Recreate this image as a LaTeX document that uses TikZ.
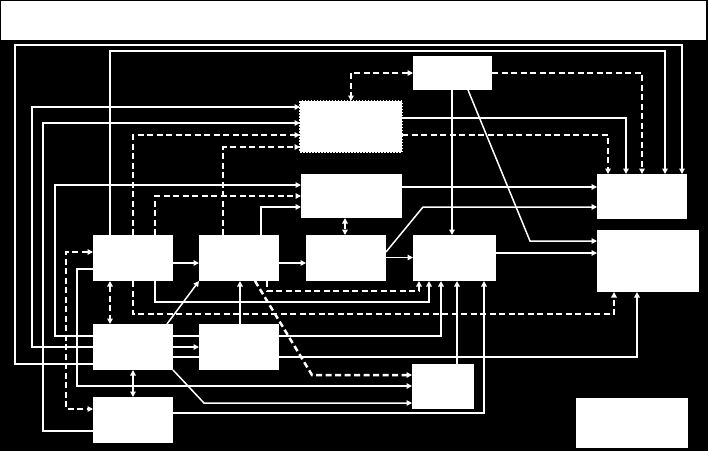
\documentclass[tikz,border=0pt]{standalone}
\usetikzlibrary{arrows.meta}
\begin{document}
\begin{tikzpicture}[x=1pt,y=-1pt,
  box/.style={rectangle,fill=white,draw=none,inner sep=0pt,outer sep=0pt,anchor=north west},
  ln/.style={draw=white,line width=1.5pt},
  dsh/.style={draw=white,line width=2.5pt,dash pattern=on 6pt off 3.5pt},
  tip/.style={-{Triangle[length=5.5pt,width=5.5pt]}},
  tips/.style={{Triangle[length=5.5pt,width=5.5pt]}-{Triangle[length=5.5pt,width=5.5pt]}}]
\fill[black] (0,0) rectangle (708,451);
\useasboundingbox (0,0) rectangle (708,451);
\path
 node[box,minimum width=705pt,minimum height=39pt] (title) at (1,1) {}
 node[box,minimum width=79pt,minimum height=34pt] (T) at (413,56) {}
 node[box,minimum width=102pt,minimum height=51pt] (B) at (300,101) {}
 node[box,minimum width=101pt,minimum height=44pt] (C) at (301,174) {}
 node[box,minimum width=80pt,minimum height=46pt] (b1) at (93,235) {}
 node[box,minimum width=80pt,minimum height=46pt] (b2) at (199,235) {}
 node[box,minimum width=80pt,minimum height=46pt] (D) at (306,235) {}
 node[box,minimum width=83pt,minimum height=46pt] (E) at (413,235) {}
 node[box,minimum width=90pt,minimum height=45pt] (F) at (597,174) {}
 node[box,minimum width=102pt,minimum height=62pt] (G) at (597,230) {}
 node[box,minimum width=80pt,minimum height=46pt] (J) at (93,324) {}
 node[box,minimum width=80pt,minimum height=46pt] (K) at (199,324) {}
 node[box,minimum width=62pt,minimum height=45pt] (H) at (412,364) {}
 node[box,minimum width=80pt,minimum height=46pt] (L) at (93,397) {}
 node[box,minimum width=112pt,minimum height=50pt] (I) at (576,398) {};
% connectors
\draw[ln,tip] (J.west |- 0,364) -- (15,364) -- (15,45) -- (682,45) -- (682,0 |- F.north);
\draw[ln,tip] (110,0 |- b1.north) -- (110,51) -- (665,51) -- (665,0 |- F.north);
\draw[dsh,tips] (T.west |- 0,73) -- (351,73) -- (351,0 |- B.north);
\draw[dsh,tip] (T.east |- 0,73) -- (642,73) -- (642,0 |- F.north);
\draw[ln,tip] (B.east |- 0,118) -- (626,118) -- (626,0 |- F.north);
\draw[dsh,tip] (B.east |- 0,135) -- (608,135) -- (608,0 |- F.north);
\draw[ln,tip] (C.east |- 0,187) -- (F.west |- 0,187);
\draw[ln,tip] (D.east |- 0,252) -- (423,207) -- (F.west |- 0,207);
\draw[ln,tip] (452,0 |- T.south) -- (452,0 |- E.north);
\draw[ln,tip] (468,0 |- T.south) -- (530,241) -- (G.west |- 0,241);
\draw[ln,tip] (E.east |- 0,253) -- (G.west |- 0,253);
\draw[ln,tip] (b1.east |- 0,263) -- (b2.west |- 0,263);
\draw[ln,tip] (b2.east |- 0,263) -- (D.west |- 0,263);
\draw[ln,tip] (D.east |- 0,257.5) -- (E.west |- 0,257.5);
\draw[ln,tip] (J.west |- 0,347) -- (32,347) -- (32,107) -- (B.west |- 0,107);
\draw[ln,tip] (L.west |- 0,431) -- (43,431) -- (43,123) -- (B.west |- 0,123);
\draw[dsh,tip] (133,0 |- b1.north) -- (133,135) -- (B.west |- 0,135);
\draw[dsh,tip] (223,0 |- b2.north) -- (223,147) -- (B.west |- 0,147);
\draw[ln,tip] (J.west |- 0,336) -- (55,336) -- (55,185) -- (C.west |- 0,185);
\draw[dsh,tip] (155,0 |- b1.north) -- (155,196) -- (C.west |- 0,196);
\draw[ln,tip] (261,0 |- b2.north) -- (261,207) -- (C.west |- 0,207);
\draw[dsh,tips] (345,0 |- C.south) -- (345,0 |- D.north);
\draw[dsh,tips] (b1.west |- 0,252) -- (66,252) -- (66,409) -- (L.west |- 0,409);
\draw[ln,tip] (b1.west |- 0,269) -- (77,269) -- (77,386) -- (H.west |- 0,386);
\draw[dsh,tips] (110,0 |- b1.south) -- (110,0 |- J.north);
\draw[dsh,tip] (133,0 |- b1.south) -- (133,314) -- (614,314) -- (614,0 |- G.south);
\draw[ln,tip] (155,0 |- b1.south) -- (155,302) -- (429,302) -- (429,0 |- E.south);
\draw[dsh,tip] (267,0 |- b2.south) -- (267,291) -- (419,291) -- (419,0 |- E.south);
\draw[dsh,tip] (255,0 |- b2.south) -- (312,375) -- (H.west |- 0,375);
\draw[ln,tip] (240,0 |- K.north) -- (240,0 |- b2.south);
\draw[ln,tip] (167,0 |- J.north) -- (b2.south west);
\draw[ln,tip] (J.east |- 0,336) -- (441,336) -- (441,0 |- E.south);
\draw[ln,tip] (J.east |- 0,347) -- (K.west |- 0,347);
\draw[ln,tip] (J.east |- 0,357) -- (637,357) -- (637,0 |- G.south);
\draw[ln,tip] (J.south east) -- (204,403) -- (H.west |- 0,403);
\draw[ln,tip] (L.east |- 0,413) -- (484,413) -- (484,0 |- E.south);
\draw[ln,tips] (133,0 |- J.south) -- (133,0 |- L.north);
\draw[ln,tip] (457,0 |- H.north) -- (457,0 |- E.south);
% boxes on top
\foreach \n in {title,T,C,b1,b2,D,E,F,G,J,K,H,L,I}
  \fill[white] (\n.north west) rectangle (\n.south east);
\fill[white] (B.north west) rectangle (B.south east);
\draw[white,line width=2pt,dash pattern=on 1.5pt off 1.5pt] (B.north west) rectangle (B.south east);
\end{tikzpicture}
\end{document}
